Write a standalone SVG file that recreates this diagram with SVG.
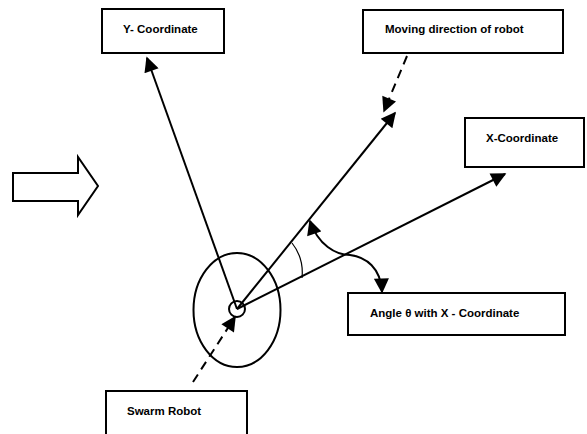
<svg xmlns="http://www.w3.org/2000/svg" width="587" height="434" viewBox="0 0 587 434">
<style>
.box{fill:#fff;stroke:#000;stroke-width:2}
.lbl{font-family:"Liberation Sans",Arial,sans-serif;font-weight:bold;font-size:11.5px;fill:#000}
.ln{fill:none;stroke:#000;stroke-width:2}
.dash{fill:none;stroke:#000;stroke-width:2;stroke-dasharray:9 6}
.thin{fill:none;stroke:#000;stroke-width:1.2}
</style>
<defs>
<marker id="ah" viewBox="0 0 10 10" refX="9" refY="5" markerWidth="8.5" markerHeight="7.5" markerUnits="strokeWidth" orient="auto-start-reverse">
<path d="M0,0 L10,5 L0,10 z" fill="#000"/>
</marker>
</defs>
<rect width="587" height="434" fill="#fff"/>
<g id="block-arrow">
<polygon class="ln" points="13,173 78,173 78,157 98,186 78,215 78,201 13,201"/>
</g>
<g id="y-coordinate">
<rect class="box" x="102" y="9" width="122" height="44"/>
<text class="lbl" x="123" y="33">Y- Coordinate</text>
</g>
<g id="moving-direction">
<rect class="box" x="363" y="10" width="200" height="43"/>
<text class="lbl" x="385" y="33">Moving direction of robot</text>
</g>
<g id="x-coordinate">
<rect class="box" x="465" y="118" width="119" height="49"/>
<text class="lbl" x="486" y="142">X-Coordinate</text>
</g>
<g id="angle">
<rect class="box" x="348" y="293" width="217" height="42"/>
<text class="lbl" x="370" y="317">Angle θ with X - Coordinate</text>
</g>
<g id="swarm-robot">
<rect class="box" x="106" y="391" width="141" height="50"/>
<text class="lbl" x="127" y="415">Swarm Robot</text>
</g>
<g id="robot">
<ellipse class="ln" cx="237" cy="310" rx="43.5" ry="57"/>
<circle class="ln" cx="237" cy="309" r="8"/>
</g>
<g id="connectors">
<line class="ln" x1="237" y1="309" x2="147" y2="58" marker-end="url(#ah)"/>
<line class="ln" x1="237" y1="309" x2="395" y2="113" marker-end="url(#ah)"/>
<line class="ln" x1="237" y1="309" x2="505" y2="174" marker-end="url(#ah)"/>
<line class="dash" x1="407" y1="56" x2="384" y2="111" marker-end="url(#ah)"/>
<line class="dash" x1="193" y1="382" x2="235" y2="317" marker-end="url(#ah)"/>
<path class="thin" d="M292,243 Q304,258 302,278"/>
<path class="ln" d="M310,221 C318,245 336,255 350,255 C366,257 381,268 382,292" marker-start="url(#ah)" marker-end="url(#ah)"/>
</g>
</svg>
